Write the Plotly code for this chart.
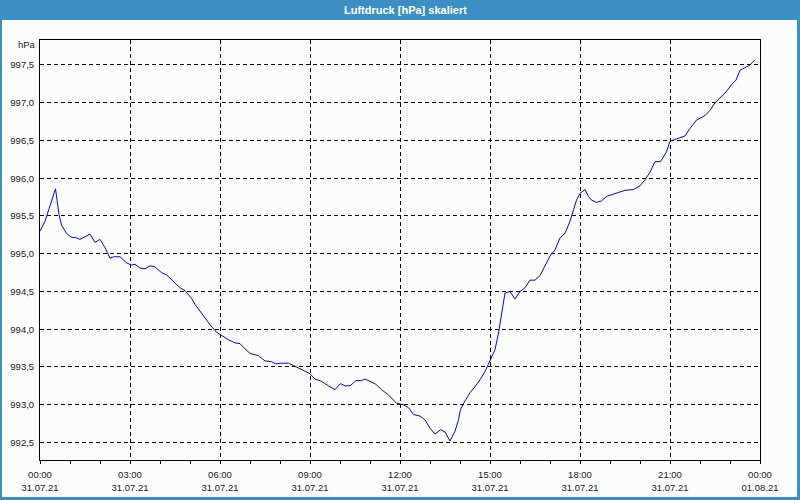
import datetime as dt
import plotly.graph_objects as go

# ---- data ----
base_day = "2021-07-31"
minutes = [0, 10, 31, 38, 43, 53, 62, 73, 80, 90, 100, 110, 120, 130, 140, 147, 160, 173, 183, 190,
           200, 210, 220, 229, 243, 253, 267, 280, 290, 303, 310, 323, 340, 353, 363, 377, 390, 400,
           410, 420, 437, 450, 463, 472, 480, 497, 507, 520, 540, 550, 563, 577, 590, 601, 610, 620,
           632, 643, 650, 660, 672, 683, 697, 713, 727, 737, 747, 760, 770, 780, 790, 801, 810, 820,
           830, 837, 841, 850, 860, 870, 880, 890, 900, 910, 917, 923, 930, 940, 950, 960, 970, 980,
           990, 1000, 1010, 1020, 1030, 1040, 1050, 1060, 1067, 1073, 1080, 1090, 1097, 1103, 1113,
           1123, 1133, 1147, 1160, 1170, 1187, 1200, 1210, 1220, 1230, 1241, 1253, 1260, 1273, 1290,
           1300, 1313, 1330, 1340, 1350, 1363, 1373, 1383, 1392, 1400, 1410, 1420, 1430]
pressure = [995.30, 995.43, 995.86, 995.52, 995.38, 995.27, 995.22, 995.21, 995.19, 995.22, 995.26,
            995.15, 995.19, 995.08, 994.94, 994.96, 994.96, 994.88, 994.85, 994.86, 994.81, 994.80,
            994.84, 994.83, 994.75, 994.72, 994.63, 994.55, 994.51, 994.41, 994.33, 994.21, 994.06,
            993.96, 993.92, 993.86, 993.82, 993.81, 993.74, 993.68, 993.65, 993.58, 993.57, 993.54,
            993.55, 993.55, 993.52, 993.48, 993.41, 993.34, 993.31, 993.25, 993.20, 993.28, 993.25,
            993.25, 993.32, 993.32, 993.34, 993.31, 993.27, 993.20, 993.13, 993.02, 993.00, 992.96,
            992.87, 992.85, 992.80, 992.69, 992.61, 992.67, 992.64, 992.52, 992.65, 992.80, 992.94,
            993.05, 993.16, 993.24, 993.33, 993.44, 993.58, 993.73, 993.95, 994.20, 994.48, 994.50,
            994.40, 994.50, 994.55, 994.65, 994.65, 994.71, 994.85, 994.97, 995.05, 995.21, 995.27,
            995.43, 995.58, 995.71, 995.80, 995.85, 995.76, 995.71, 995.68, 995.70, 995.76, 995.79,
            995.81, 995.84, 995.85, 995.90, 995.98, 996.08, 996.22, 996.22, 996.35, 996.49, 996.52,
            996.56, 996.66, 996.77, 996.83, 996.90, 997.00, 997.08, 997.15, 997.24, 997.30, 997.43,
            997.46, 997.50, 997.57]

y_tickvals = [992.5, 993.0, 993.5, 994.0, 994.5, 995.0, 995.5, 996.0, 996.5, 997.0, 997.5]
y_ticktext = ["992,5", "993,0", "993,5", "994,0", "994,5", "995,0", "995,5", "996,0", "996,5", "997,0", "997,5"]
x_tick_hours = [0, 3, 6, 9, 12, 15, 18, 21, 24]
x_ticktext = ["00:00<br>31.07.21", "03:00<br>31.07.21", "06:00<br>31.07.21", "09:00<br>31.07.21",
              "12:00<br>31.07.21", "15:00<br>31.07.21", "18:00<br>31.07.21", "21:00<br>31.07.21",
              "00:00<br>01.08.21"]
title_text = "Luftdruck [hPa] skaliert"
unit_text = "hPa"

# ---- build ----
t0 = dt.datetime.fromisoformat(base_day)
times = [t0 + dt.timedelta(minutes=m) for m in minutes]
x_tickvals = [t0 + dt.timedelta(hours=h) for h in x_tick_hours]
x_minor = [t0 + dt.timedelta(hours=h) for h in range(0, 25)]

W, H = 800, 500
L, R, T, B = 40, 40, 40, 40
pw, ph = W - L - R, H - T - B


def px(p):
    return (p - L) / pw


def py(q):
    return (H - B - q) / ph


FONT = "Liberation Sans"
BG = "#fbfdfb"
BLUE = "#3b8fc4"

fig = go.Figure()
fig.add_trace(go.Scatter(x=times, y=pressure, mode="lines",
                         line=dict(color="#0000ff", width=1), hoverinfo="skip", showlegend=False))

grid_common = dict(showgrid=True, gridcolor="black", gridwidth=1, griddash="4px,3px",
                   showline=True, linecolor="black", linewidth=1, mirror=True, zeroline=False,
                   automargin=False,
                   tickfont=dict(family=FONT, size=9.5, color="#1a1a1a"))

fig.update_xaxes(range=[t0, t0 + dt.timedelta(hours=24)], tickmode="array",
                 tickvals=x_tickvals, ticktext=x_ticktext, ticks="outside", ticklen=3,
                 tickcolor="black", ticklabelstandoff=3,
                 minor=dict(tickmode="array", tickvals=x_minor, ticks="outside", ticklen=3,
                            tickcolor="black", showgrid=False),
                 **grid_common)
fig.update_yaxes(range=[992.268, 997.831], tickmode="array", tickvals=y_tickvals,
                 ticktext=y_ticktext, ticks="", ticklabelstandoff=3, **grid_common)

shapes = [
    dict(type="rect", xref="paper", yref="paper", x0=px(0), x1=px(800), y0=py(0), y1=py(20),
         fillcolor=BLUE, line=dict(width=0), layer="above"),
    dict(type="rect", xref="paper", yref="paper", x0=px(0), x1=px(2), y0=py(20), y1=py(500),
         fillcolor=BLUE, line=dict(width=0), layer="above"),
    dict(type="rect", xref="paper", yref="paper", x0=px(797), x1=px(800), y0=py(20), y1=py(500),
         fillcolor=BLUE, line=dict(width=0), layer="above"),
    dict(type="rect", xref="paper", yref="paper", x0=px(0), x1=px(800), y0=py(497), y1=py(500),
         fillcolor=BLUE, line=dict(width=0), layer="above"),
]

annotations = [
    dict(text="<b>" + title_text + "</b>", xref="paper", yref="paper", x=px(405), y=py(9.5),
         xanchor="center", yanchor="middle", showarrow=False,
         font=dict(family=FONT, size=11, color="white")),
    dict(text=unit_text, xref="paper", yref="paper", x=px(37.5), y=py(44.5),
         xanchor="right", yanchor="middle", showarrow=False,
         font=dict(family=FONT, size=9.5, color="#1a1a1a")),
]

fig.update_layout(width=W, height=H, margin=dict(l=L, r=R, t=T, b=B, pad=0),
                  paper_bgcolor=BG, plot_bgcolor=BG, shapes=shapes, annotations=annotations,
                  showlegend=False)

fig.write_html("out.html", config={"displayModeBar": False},
               post_script="document.body.style.margin='0';document.body.style.overflow='hidden';")
